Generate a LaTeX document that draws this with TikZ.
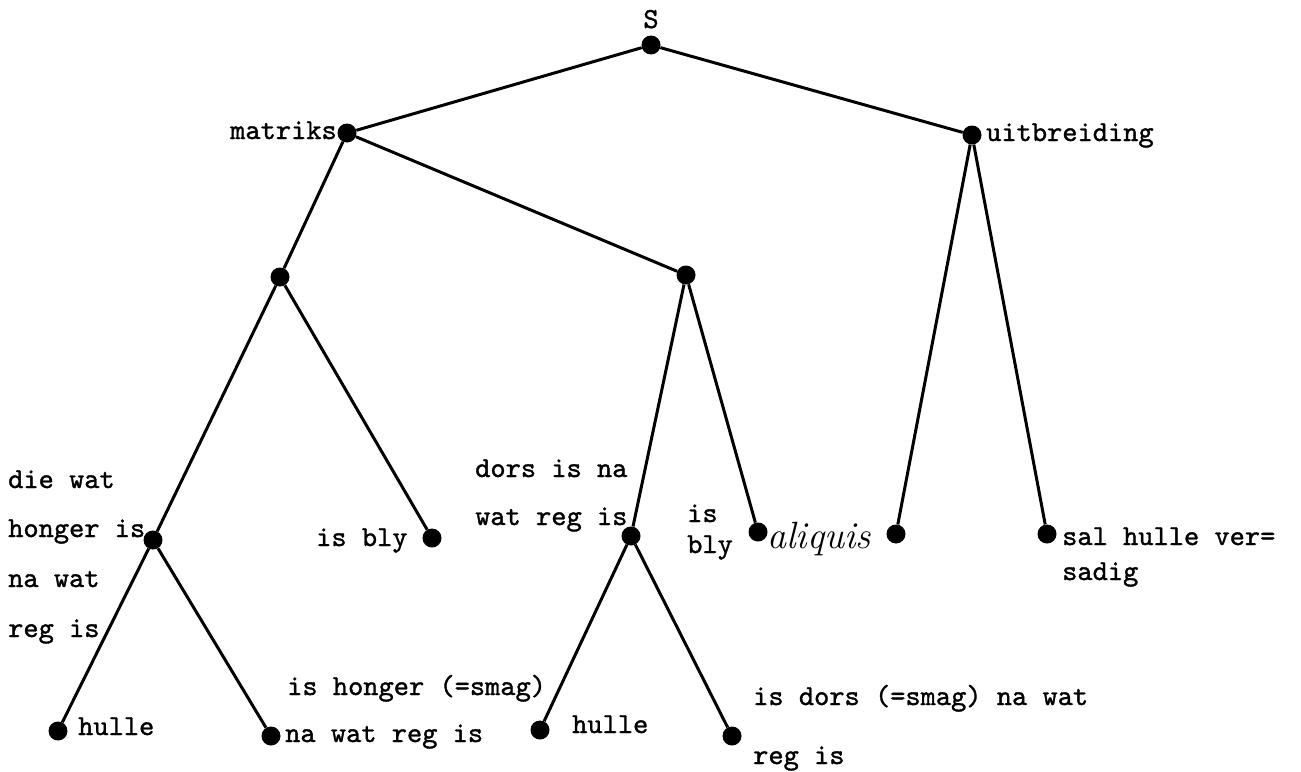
\documentclass[tikz,border=0pt]{standalone}
\usepackage{fontspec}
\setmonofont{lmmono10-regular.otf}[FakeBold=1.2]
\begin{document}
\begin{tikzpicture}[x=1pt,y=-1pt,
 dot/.style={circle,fill=black,inner sep=0pt,minimum size=19pt},
 edge/.style={line width=3pt},
 lbl/.style={font=\fontsize{29}{34}\selectfont\ttfamily,inner sep=0pt},
 ital/.style={font=\fontsize{38}{44}\selectfont\itshape,inner sep=0pt}]
\useasboundingbox (0,0) rectangle (1301,771);
\node[dot] (S) at (651,45) {};
\node[dot] (mat) at (347,133) {};
\node[dot] (uit) at (972,135) {};
\node[dot] (n1) at (280,277) {};
\node[dot] (n2) at (686,275) {};
\node[dot] (n3) at (153,540) {};
\node[dot] (bly1) at (432,538) {};
\node[dot] (n4) at (631,536) {};
\node[dot] (bly2) at (758,532) {};
\node[dot] (ali) at (896,534) {};
\node[dot] (sal) at (1047,534) {};
\node[dot] (h1) at (58,731) {};
\node[dot] (nw) at (271,736) {};
\node[dot] (h2) at (540,730) {};
\node[dot] (dors) at (732,736) {};
\draw[edge] (S) -- (mat);
\draw[edge] (S) -- (uit);
\draw[edge] (mat) -- (n1);
\draw[edge] (mat) -- (n2);
\draw[edge] (uit) -- (ali);
\draw[edge] (uit) -- (sal);
\draw[edge] (n1) -- (n3);
\draw[edge] (n1) -- (bly1);
\draw[edge] (n2) -- (n4);
\draw[edge] (n2) -- (bly2);
\draw[edge] (n3) -- (h1);
\draw[edge] (n3) -- (nw);
\draw[edge] (n4) -- (h2);
\draw[edge] (n4) -- (dors);
\node[lbl,anchor=base] (tS) at (651,28) {S};
\node[lbl,anchor=base east] (tmat) at (337,139) {matriks};
\node[lbl,anchor=base west] (tuit) at (986,141) {uitbreiding};
\node[lbl,anchor=base west] (t3a) at (8,488) {die wat};
\node[lbl,anchor=base west] (t3b) at (8,537) {honger is};
\node[lbl,anchor=base west] (t3c) at (8,587) {na wat};
\node[lbl,anchor=base west] (t3d) at (8,637) {reg is};
\node[lbl,anchor=base west] (tbly1) at (316,546) {is bly};
\node[lbl,anchor=base west] (t4a) at (475,477) {dors is na};
\node[lbl,anchor=base west] (t4b) at (475,525) {wat reg is};
\node[lbl,anchor=base west] (tbly2a) at (687,522) {is};
\node[lbl,anchor=base west] (tbly2b) at (687,553) {bly};
\node[ital,anchor=base west] (tali) at (767,548) {aliquis};
\node[lbl,anchor=base west] (tsala) at (1062,545) {sal hulle ver=};
\node[lbl,anchor=base west] (tsalb) at (1062,580) {sadig};
\node[lbl,anchor=base west] (th1) at (78,735) {hulle};
\node[lbl,anchor=base west] (thon) at (287,695) {is honger (=smag)};
\node[lbl,anchor=base west] (tnw) at (285,742) {na wat reg is};
\node[lbl,anchor=base west] (th2) at (572,733) {hulle};
\node[lbl,anchor=base west] (tdorsa) at (753,705) {is dors (=smag) na wat};
\node[lbl,anchor=base west] (tdorsb) at (753,764) {reg is};
\end{tikzpicture}
\end{document}
